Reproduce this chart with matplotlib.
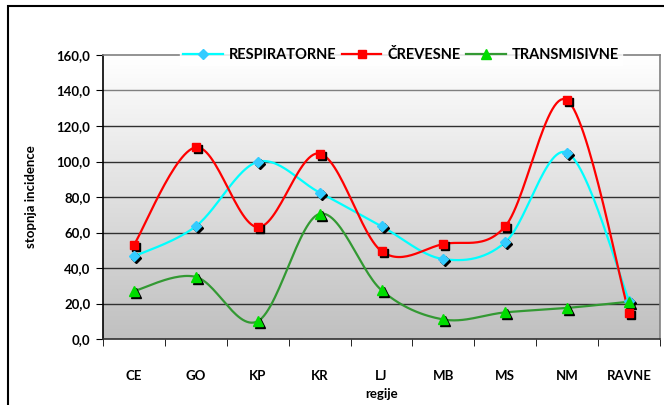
import numpy as np
import matplotlib
matplotlib.use('Agg')
import matplotlib.pyplot as plt
from matplotlib.transforms import offset_copy
from matplotlib.patches import Rectangle

regije = ['CE', 'GO', 'KP', 'KR', 'LJ', 'MB', 'MS', 'NM', 'RAVNE']
respiratorne = [46.5, 63.5, 99.8, 82.5, 63.5, 45.0, 54.5, 105.0, 21.5]
crevesne = [53.0, 108.0, 63.0, 104.5, 49.5, 53.5, 63.5, 134.5, 14.5]
transmisivne = [27.0, 35.0, 10.0, 70.5, 27.5, 11.0, 15.0, 17.5, 21.0]

plt.rcParams['font.family'] = ['Lato', 'DejaVu Sans']
plt.rcParams['font.weight'] = 'bold'


def smooth(x, y, n=30):
    # Excel-like smoothed line: bezier segments with catmull-rom control points
    x = np.asarray(x, float)
    y = np.asarray(y, float)
    px = np.concatenate([[x[0]], x, [x[-1]]])
    py = np.concatenate([[y[0]], y, [y[-1]]])
    xs, ys = [], []
    t = np.linspace(0, 1, n)
    for i in range(1, len(px) - 2):
        p0 = np.array([px[i], py[i]])
        p3 = np.array([px[i + 1], py[i + 1]])
        p1 = p0 + (np.array([px[i + 1], py[i + 1]]) - np.array([px[i - 1], py[i - 1]])) / 6
        p2 = p3 - (np.array([px[i + 2], py[i + 2]]) - np.array([px[i], py[i]])) / 6
        b = ((1 - t) ** 3)[:, None] * p0 + (3 * (1 - t) ** 2 * t)[:, None] * p1 \
            + (3 * (1 - t) * t ** 2)[:, None] * p2 + (t ** 3)[:, None] * p3
        xs.extend(b[:, 0])
        ys.extend(b[:, 1])
    return np.array(xs), np.array(ys)


fig = plt.figure(figsize=(6.64, 4.05), dpi=100)
ax = fig.add_axes([103 / 664, 1 - 339 / 405, 557 / 664, 284 / 405])

# outer chart border (only left and top visible)
fig.patches.append(Rectangle((8 / 664, -0.1), 1.2, 1 - 6 / 405 + 0.1, transform=fig.transFigure,
                             fill=False, edgecolor='black', linewidth=1.5, zorder=0))

x = np.arange(len(regije))
ax.set_xlim(-0.5, len(regije) - 0.5)
ax.set_ylim(0, 160)

# gradient background, white at top
grad = np.linspace(0, 1, 256)[:, None]
cmap = matplotlib.colors.LinearSegmentedColormap.from_list('g', ['#ffffff', '#c0c0c0'])
ax.imshow(grad, extent=[0, 1, 0, 1], transform=ax.transAxes, aspect='auto', cmap=cmap,
          origin='upper', zorder=0)

for v in np.arange(20, 160, 20):
    ax.axhline(v, color='#303030' if v < 140 else '#808080', linewidth=1, zorder=1)

series = [
    ('RESPIRATORNE', respiratorne, '#00ffff', 'D', '#33ccff', 5.5),
    ('ČREVESNE', crevesne, '#ff0000', 's', '#ff0000', 5.5),
    ('TRANSMISIVNE', transmisivne, '#339933', '^', '#00dd00', 6.5),
]
shadow = offset_copy(ax.transData, fig=fig, x=2, y=-2, units='dots')
handles = []
for name, vals, lc, mk, fc, ms in series:
    sx, sy = smooth(x, vals)
    ax.plot(sx, sy, color=lc, linewidth=1.6, zorder=3)
    ax.plot(x, vals, linestyle='none', marker=mk, markersize=ms, color='black',
            transform=shadow, zorder=4)
    ax.plot(x, vals, linestyle='none', marker=mk, markersize=ms, markerfacecolor=fc,
            markeredgecolor=fc, zorder=5)
    h, = ax.plot([], [], color=lc, linewidth=1.6, marker=mk, markersize=ms,
                 markerfacecolor=fc, markeredgecolor=fc)
    handles.append(h)

ax.spines['top'].set_color('#808080')
ax.spines['right'].set_color('#808080')
ax.spines['left'].set_color('black')
ax.spines['bottom'].set_color('#303030')
for s in ax.spines.values():
    s.set_linewidth(1.2)

ax.set_yticks(np.arange(0, 161, 20))
ax.set_yticklabels([f'{v:.1f}'.replace('.', ',') for v in np.arange(0, 161, 20)])
ax.set_xticks(x)
ax.set_xticklabels(regije)
ax.set_xticks(np.arange(-0.5, len(regije), 1), minor=True)
ax.tick_params(axis='x', which='major', length=0, pad=22, labelsize=9.5)
ax.tick_params(axis='x', which='minor', length=5, direction='out')
ax.tick_params(axis='y', length=5, direction='out', labelsize=9.5, pad=4)

ax.set_ylabel('stopnja incidence', fontsize=9.5, fontweight='bold', labelpad=14)
ax.set_xlabel('regije', fontsize=9.5, fontweight='bold', labelpad=5)

leg = ax.legend(handles, [s[0] for s in series], loc='center', bbox_to_anchor=(0.535, 1.0),
                ncol=3, frameon=True, fontsize=10.5, handlelength=2.7, columnspacing=0.4,
                handletextpad=0.4, borderpad=0.2, fancybox=False)
leg.get_frame().set_facecolor('white')
leg.get_frame().set_edgecolor('white')
leg.set_zorder(10)

fig.savefig('out.png', dpi=100)
